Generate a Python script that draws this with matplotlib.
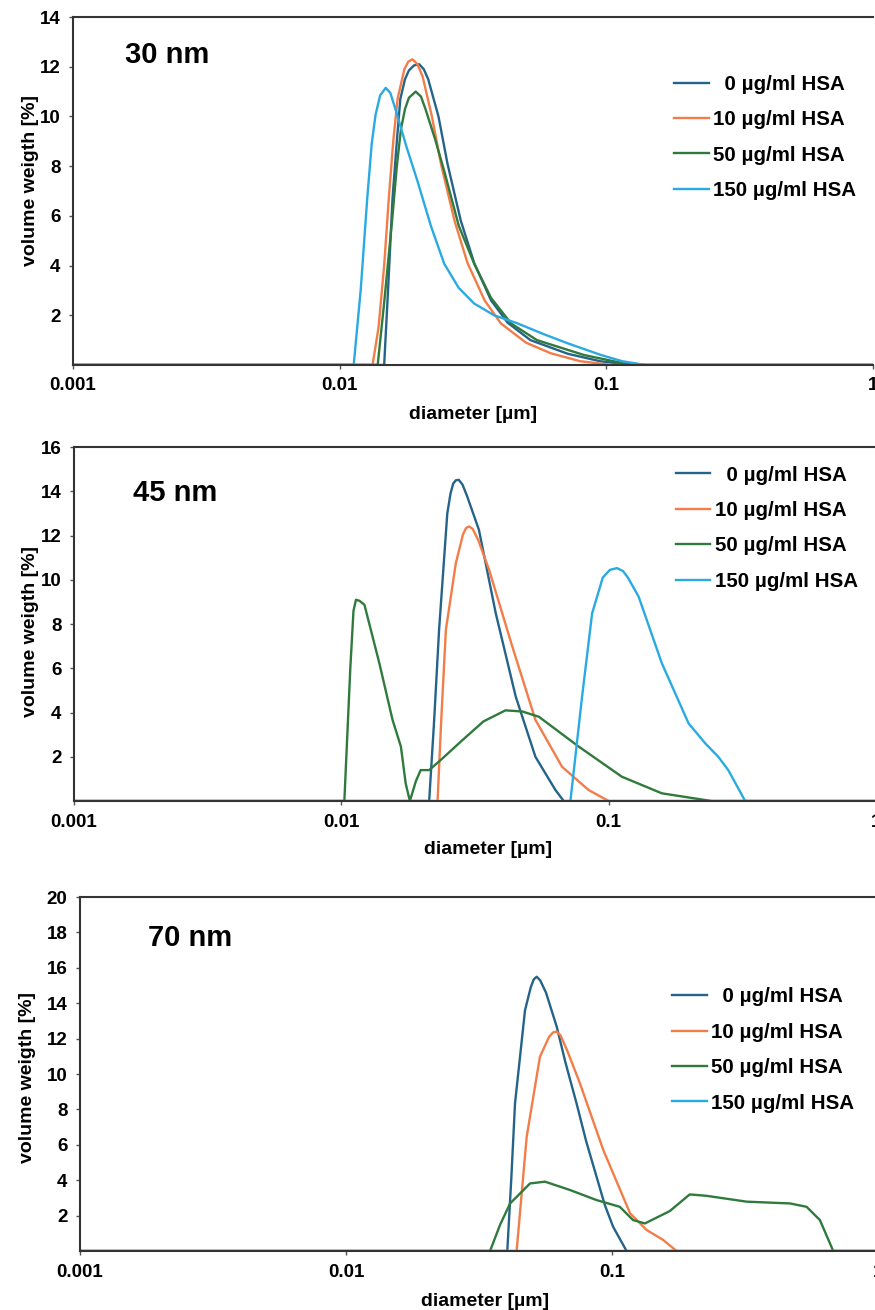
import matplotlib
matplotlib.use("Agg")
import matplotlib.pyplot as plt
from matplotlib.ticker import FixedLocator, FixedFormatter

plt.rcParams["font.family"] = ["Liberation Sans", "DejaVu Sans"]
plt.rcParams["font.weight"] = "bold"

# concentrations / colours
labels = ["  0 µg/ml HSA", "10 µg/ml HSA", "50 µg/ml HSA", "150 µg/ml HSA"]
colors = ["#25648a", "#f27d48", "#2f7a3c", "#2aaae2"]

# ---- 30 nm ----
d30_0 = [0.001, 0.0147, 0.0152, 0.0158, 0.0164, 0.0169, 0.0176, 0.0182, 0.019, 0.0199, 0.0207, 0.0215, 0.0235, 0.0254, 0.0285, 0.032, 0.037, 0.0427, 0.052, 0.0718, 0.095, 0.125, 1]
v30_0 = [0, 0, 3.0, 6.7, 9.0, 10.7, 11.5, 11.85, 12.05, 12.1, 11.9, 11.5, 10.0, 8.1, 5.8, 4.1, 2.6, 1.7, 1.0, 0.45, 0.15, 0, 0]
d30_10 = [0.001, 0.0133, 0.014, 0.0147, 0.0153, 0.0159, 0.0165, 0.0175, 0.0181, 0.01875, 0.0196, 0.0205, 0.0222, 0.024, 0.027, 0.0302, 0.035, 0.0403, 0.05, 0.062, 0.08, 0.105, 1]
v30_10 = [0, 0, 1.5, 4.0, 6.7, 9.0, 10.7, 11.9, 12.2, 12.3, 12.1, 11.6, 10.0, 8.1, 5.8, 4.1, 2.6, 1.67, 0.9, 0.47, 0.15, 0, 0]
d30_50 = [0.001, 0.0139, 0.0147, 0.0158, 0.0164, 0.017, 0.0176, 0.0182, 0.0193, 0.0202, 0.021, 0.0228, 0.0247, 0.028, 0.032, 0.037, 0.044, 0.055, 0.0826, 0.11, 0.14, 1]
v30_50 = [0, 0, 2.5, 6.0, 8.0, 9.5, 10.3, 10.75, 11.0, 10.8, 10.3, 9.1, 7.8, 5.6, 4.07, 2.7, 1.67, 1.0, 0.4, 0.12, 0, 0]
d30_150 = [0.001, 0.0113, 0.012, 0.0127, 0.0132, 0.01365, 0.0142, 0.0149, 0.0155, 0.0162, 0.0178, 0.0196, 0.022, 0.0247, 0.028, 0.032, 0.038, 0.0466, 0.058, 0.0718, 0.0957, 0.115, 0.14, 1]
v30_150 = [0, 0, 3.0, 6.7, 8.9, 10.07, 10.85, 11.15, 10.95, 10.3, 8.8, 7.4, 5.6, 4.07, 3.1, 2.47, 2.0, 1.67, 1.25, 0.87, 0.4, 0.15, 0, 0]

# ---- 45 nm ----
d45_0 = [0.001, 0.0213, 0.0222, 0.0232, 0.0249, 0.0256, 0.0262, 0.0268, 0.0275, 0.0284, 0.0295, 0.0327, 0.0378, 0.0449, 0.0532, 0.0632, 0.0679, 1]
v45_0 = [0, 0, 3.5, 7.74, 13.0, 13.9, 14.35, 14.5, 14.52, 14.3, 13.8, 12.26, 8.49, 4.72, 2.0, 0.5, 0, 0]
d45_10 = [0.001, 0.0229, 0.0236, 0.0246, 0.0268, 0.0285, 0.0293, 0.0301, 0.031, 0.0325, 0.0357, 0.0436, 0.0532, 0.0669, 0.0841, 0.1, 1]
v45_10 = [0, 0, 3.5, 7.74, 10.75, 12.05, 12.35, 12.41, 12.3, 11.8, 10.45, 6.98, 3.67, 1.55, 0.5, 0, 0]
d45_50 = [0.001, 0.01026, 0.0108, 0.0111, 0.01134, 0.0117, 0.0122, 0.01387, 0.01554, 0.0167, 0.0174, 0.01804, 0.019, 0.0198, 0.0213, 0.0239, 0.0284, 0.034, 0.0411, 0.0475, 0.0548, 0.0773, 0.112, 0.158, 0.243, 1]
v45_50 = [0, 0, 6.0, 8.6, 9.1, 9.05, 8.87, 6.23, 3.67, 2.46, 0.8, 0, 0.9, 1.4, 1.4, 1.93, 2.76, 3.6, 4.1, 4.05, 3.81, 2.46, 1.1, 0.35, 0, 0]
d45_150 = [0.001, 0.0719, 0.0795, 0.0867, 0.095, 0.101, 0.1074, 0.113, 0.118, 0.1294, 0.158, 0.199, 0.23, 0.257, 0.28, 0.324, 1]
v45_150 = [0, 0, 4.72, 8.49, 10.1, 10.45, 10.53, 10.4, 10.1, 9.24, 6.23, 3.51, 2.6, 2.0, 1.4, 0, 0]

# ---- 70 nm ----
d70_0 = [0.001, 0.0404, 0.0418, 0.0432, 0.0471, 0.0495, 0.0508, 0.0521, 0.0537, 0.0565, 0.062, 0.067, 0.0736, 0.08, 0.0875, 0.094, 0.101, 0.1135, 1]
v70_0 = [0, 0, 4.0, 8.34, 13.6, 14.9, 15.35, 15.5, 15.3, 14.6, 12.67, 10.6, 8.34, 6.2, 4.2, 2.6, 1.37, 0, 0]
d70_10 = [0.001, 0.0438, 0.0478, 0.0536, 0.058, 0.06, 0.0619, 0.064, 0.068, 0.0758, 0.0928, 0.117, 0.135, 0.156, 0.175, 1]
v70_10 = [0, 0, 6.46, 10.98, 12.1, 12.35, 12.4, 12.2, 11.3, 9.47, 5.7, 2.13, 1.19, 0.62, 0, 0]
d70_50 = [0.001, 0.0348, 0.038, 0.0414, 0.0492, 0.056, 0.0695, 0.0875, 0.107, 0.12, 0.133, 0.165, 0.196, 0.227, 0.321, 0.467, 0.539, 0.605, 0.679, 1]
v70_50 = [0, 0, 1.5, 2.69, 3.82, 3.92, 3.45, 2.88, 2.5, 1.75, 1.56, 2.26, 3.2, 3.12, 2.79, 2.69, 2.5, 1.75, 0, 0]
d70_150 = [0.001, 1]
v70_150 = [0, 0]

xticks = [0.001, 0.01, 0.1, 1]
xticklabels = ["0.001", "0.01", "0.1", "1"]

panels = [
    dict(title="30 nm", ymax=14, pos=[0.0834, 0.7214, 0.914, 0.2656],
         series=[(d30_0, v30_0), (d30_10, v30_10), (d30_50, v30_50), (d30_150, v30_150)],
         title_xy=(0.065, 0.89), leg_xy=(0.752, 0.834), xlab_x=0.5, xlab_y=-0.118,
         ylab_x=-0.043, ylab_y=0.53),
    dict(title="45 nm", ymax=16, pos=[0.0846, 0.3885, 0.9166, 0.2702],
         series=[(d45_0, v45_0), (d45_10, v45_10), (d45_50, v45_50), (d45_150, v45_150)],
         title_xy=(0.074, 0.87), leg_xy=(0.75, 0.948), xlab_x=0.516, xlab_y=-0.113,
         ylab_x=-0.044, ylab_y=0.48),
    dict(title="70 nm", ymax=20, pos=[0.0914, 0.045, 0.912, 0.2702],
         series=[(d70_0, v70_0), (d70_10, v70_10), (d70_50, v70_50), (d70_150, v70_150)],
         title_xy=(0.085, 0.884), leg_xy=(0.742, 0.745), xlab_x=0.508, xlab_y=-0.118,
         ylab_x=-0.055, ylab_y=0.49),
]

fig = plt.figure(figsize=(8.75, 13.1), dpi=100)

for p in panels:
    ax = fig.add_axes(p["pos"])
    for (d, v), c, lab in zip(p["series"], colors, labels):
        ax.plot(d, v, color=c, lw=1.7, label=lab, solid_joinstyle="round")
    ax.set_xscale("log")
    ax.set_xlim(0.001, 1)
    ax.set_ylim(0, p["ymax"])
    ax.xaxis.set_major_locator(FixedLocator(xticks))
    ax.xaxis.set_major_formatter(FixedFormatter(xticklabels))
    ax.xaxis.set_minor_locator(FixedLocator([]))
    ax.set_yticks(range(2, p["ymax"] + 1, 2))
    ax.tick_params(axis="both", labelsize=13.5, length=3, width=1, color="#555555", pad=6)
    for s in ["left", "top", "bottom"]:
        ax.spines[s].set_color("#333333")
        ax.spines[s].set_linewidth(1.5)
    ax.spines["right"].set_visible(False)
    ax.set_ylabel("volume weigth [%]", fontsize=14, fontweight="bold")
    ax.yaxis.set_label_coords(p["ylab_x"], p["ylab_y"])
    ax.set_xlabel("diameter [µm]", fontsize=14, fontweight="bold")
    ax.xaxis.set_label_coords(p["xlab_x"], p["xlab_y"])
    ax.text(p["title_xy"][0], p["title_xy"][1], p["title"], transform=ax.transAxes,
            fontsize=21, fontweight="bold", va="center", ha="left")
    ax.legend(loc="upper left", bbox_to_anchor=p["leg_xy"], frameon=False,
              fontsize=14.8, handlelength=1.7, handletextpad=0.2,
              labelspacing=0.8, borderpad=0, borderaxespad=0)

fig.savefig("out.png", dpi=100)
